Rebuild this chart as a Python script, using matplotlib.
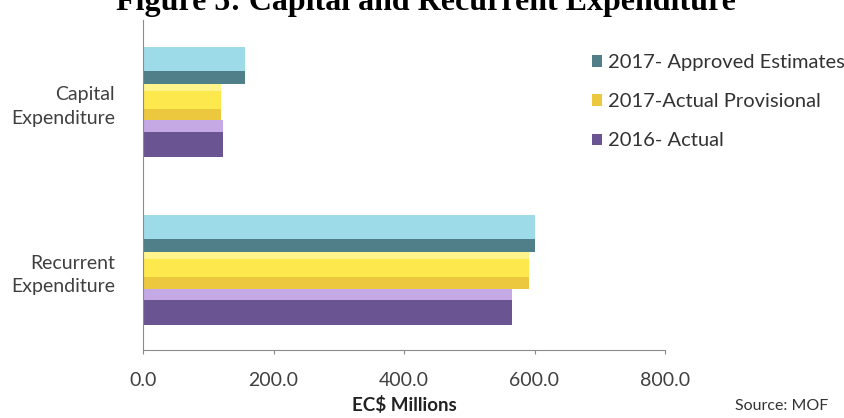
import numpy as np
import matplotlib.pyplot as plt
from matplotlib.patches import Patch

categories = ["Recurrent\nExpenditure", "Capital\nExpenditure"]
series = ["2016- Actual", "2017-Actual Provisional", "2017- Approved Estimates"]
actual_2016 = [566.0, 122.0]
provisional_2017 = [592.0, 119.0]
approved_2017 = [601.0, 156.0]
values = [actual_2016, provisional_2017, approved_2017]

# light top shade, dark bottom shade, share of the bar height in the light shade
colors = [("#c5a9e4", "#6a5592", 0.32),
          ("#fde84e", "#ecc83e", 0.68),
          ("#9edbe8", "#517f89", 0.66)]

plt.rcParams['font.family'] = ['Lato', 'DejaVu Sans']

fig = plt.figure(figsize=(8.44, 4.18), dpi=100)
ax = fig.add_axes([143 / 844, 68 / 418, 522 / 844, 330 / 418])

y = np.arange(len(categories))
h = 0.22
for i, (vals, (light, dark, frac)) in enumerate(zip(values, colors)):
    pos = y + (i - 1) * h
    ax.barh(pos, vals, height=h, color=dark, edgecolor='none')
    ax.barh(pos + h / 2 - frac * h / 2, vals, height=frac * h, color=light, edgecolor='none')

# pale highlight along the top of the yellow bars
ax.barh(y + h * 0.4, provisional_2017, height=h * 0.2, color='#fff38c', edgecolor='none')

ax.set_xlim(0, 800)
ax.set_ylim(-0.476, 1.488)
ax.set_xticks([0, 200, 400, 600, 800])
ax.set_xticklabels([f"{v:.1f}" for v in [0, 200, 400, 600, 800]], fontsize=14, color='#404040')
ax.set_yticks(y)
ax.set_yticklabels(categories, fontsize=14, color='#404040', linespacing=1.45)
ax.tick_params(axis='y', length=0, pad=20)
ax.tick_params(axis='x', length=3, color='#888888', pad=13)
for s in ['top', 'right']:
    ax.spines[s].set_visible(False)
for s in ['left', 'bottom']:
    ax.spines[s].set_color('#8c8c8c')
ax.set_xlabel("EC$ Millions", fontsize=13.5, fontweight='bold', color='#222222', labelpad=5)

handles = [Patch(facecolor=colors[i][1]) for i in [2, 1, 0]]
labels = [series[i] for i in [2, 1, 0]]
fig.legend(handles, labels, loc='upper left', bbox_to_anchor=(574 / 844, 1 - 36 / 418),
           frameon=False, fontsize=14.5, handlelength=0.5, handleheight=0.5,
           handletextpad=0.3, labelspacing=1.1, labelcolor='#333333')

fig.text(0.505, 0.995, "Figure 5: Capital and Recurrent Expenditure", ha='center', va='center',
         fontsize=23, fontweight='bold', family='Liberation Serif')
fig.text(0.871, 0.02, "Source: MOF", fontsize=11.5, color='#333333')

fig.savefig("out.png", dpi=100)
